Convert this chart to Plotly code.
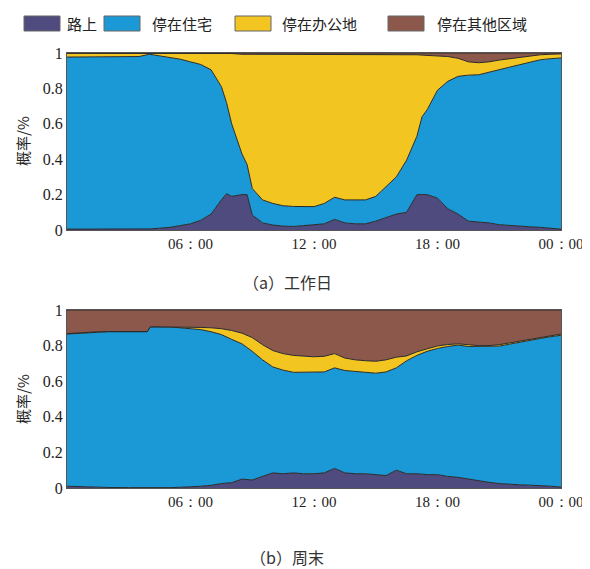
import plotly.graph_objects as go

# ---------------- data (cumulative boundaries) ----------------
wd_hours = [0, 1, 2, 3, 3.5, 4, 4.5, 5, 5.5, 6, 6.5, 7, 7.5, 7.75, 8, 8.5, 8.75, 9, 9.5, 10,
            10.5, 11, 11.5, 12, 12.5, 13, 13.5, 14, 14.5, 15, 15.5, 16, 16.5, 17, 17.25, 17.5,
            18, 18.5, 19, 19.5, 20, 20.5, 21, 21.5, 22, 22.5, 23, 23.5, 24]
wd_road = [0.005, 0.005, 0.003, 0.004, 0.005, 0.006, 0.01, 0.015, 0.025, 0.035, 0.055, 0.09,
           0.17, 0.205, 0.19, 0.2, 0.2, 0.085, 0.04, 0.028, 0.022, 0.02, 0.025, 0.028, 0.035,
           0.06, 0.04, 0.035, 0.035, 0.05, 0.07, 0.09, 0.1, 0.2, 0.2, 0.2, 0.18, 0.12, 0.09,
           0.05, 0.045, 0.04, 0.03, 0.025, 0.02, 0.018, 0.015, 0.01, 0.005]
wd_home_top = [0.977, 0.977, 0.977, 0.977, 0.98, 0.993, 0.985, 0.975, 0.965, 0.95, 0.935,
               0.905, 0.81, 0.72, 0.6, 0.43, 0.37, 0.235, 0.17, 0.15, 0.137, 0.133, 0.132,
               0.132, 0.15, 0.185, 0.17, 0.168, 0.17, 0.19, 0.245, 0.3, 0.395, 0.53, 0.64,
               0.68, 0.79, 0.84, 0.868, 0.875, 0.877, 0.89, 0.905, 0.92, 0.934, 0.948, 0.962,
               0.968, 0.972]
wd_office_top = [0.998, 0.998, 0.998, 0.998, 0.998, 0.998, 0.998, 0.998, 0.998, 0.998, 0.998,
                 0.998, 0.998, 0.998, 0.997, 0.993, 0.993, 0.993, 0.99, 0.99, 0.99, 0.99, 0.99,
                 0.99, 0.99, 0.99, 0.99, 0.99, 0.99, 0.99, 0.99, 0.99, 0.99, 0.99, 0.988, 0.987,
                 0.985, 0.98, 0.97, 0.95, 0.945, 0.95, 0.96, 0.968, 0.975, 0.985, 0.99, 0.993,
                 0.995]

we_hours = [0, 0.5, 1, 1.5, 2, 3, 3.9, 4.05, 4.5, 5, 5.5, 6, 6.5, 7, 7.5, 8, 8.5, 9, 9.5, 10,
            10.5, 11, 11.5, 12, 12.5, 13, 13.5, 14, 14.5, 15, 15.5, 16, 16.5, 17, 17.5, 18,
            18.5, 19, 19.5, 20, 20.5, 21, 21.5, 22, 22.5, 23, 23.5, 24]
we_road = [0.01, 0.008, 0.005, 0.004, 0.003, 0.002, 0.001, 0.0, 0.0, 0.002, 0.004, 0.005,
           0.01, 0.015, 0.025, 0.03, 0.05, 0.045, 0.065, 0.085, 0.08, 0.085, 0.08, 0.08, 0.085,
           0.11, 0.085, 0.08, 0.08, 0.075, 0.07, 0.1, 0.08, 0.08, 0.075, 0.075, 0.065, 0.06,
           0.05, 0.04, 0.032, 0.025, 0.02, 0.018, 0.016, 0.015, 0.01, 0.005]
we_home_top = [0.865, 0.868, 0.872, 0.877, 0.878, 0.878, 0.878, 0.905, 0.905, 0.905, 0.9,
               0.895, 0.89, 0.878, 0.862, 0.835, 0.81, 0.768, 0.72, 0.68, 0.662, 0.65, 0.65,
               0.648, 0.652, 0.675, 0.66, 0.655, 0.648, 0.645, 0.652, 0.675, 0.715, 0.745,
               0.768, 0.784, 0.795, 0.803, 0.795, 0.795, 0.795, 0.797, 0.808, 0.82, 0.83, 0.84,
               0.85, 0.858]
we_office_top = [0.867, 0.872, 0.873, 0.878, 0.879, 0.879, 0.879, 0.906, 0.906, 0.906, 0.905,
                 0.905, 0.902, 0.9, 0.895, 0.885, 0.87, 0.845, 0.805, 0.772, 0.755, 0.745, 0.74,
                 0.737, 0.74, 0.755, 0.73, 0.72, 0.715, 0.712, 0.72, 0.735, 0.742, 0.765, 0.782,
                 0.798, 0.806, 0.81, 0.805, 0.8, 0.8, 0.805, 0.815, 0.825, 0.835, 0.845, 0.856,
                 0.865]

series_names = ["路上", "停在住宅", "停在办公地", "停在其他区域"]
series_colors = ["#4f4b7e", "#1b98d6", "#f3c520", "#8b584b"]
tick_vals = [6, 12, 18, 24]
tick_text = ["06：00", "12：00", "18：00", "00：00"]
y_tick_vals = [0, 0.2, 0.4, 0.6, 0.8, 1]
y_tick_text = ["0", "0.2", "0.4", "0.6", "0.8", "1"]
captions = ["（a）工作日", "（b）周末"]
y_title = "概率/%"

# ---------------- figure ----------------
fig = go.Figure()
LINE = "#2a2a2a"


def add_panel(hours, road, home_top, office_top, xa, ya):
    total = [1.0] * len(hours)
    bounds = [road, home_top, office_top, total]
    for i, b in enumerate(bounds):
        fig.add_trace(go.Scatter(
            x=hours, y=b, mode="lines",
            line=dict(color=LINE, width=1),
            fill="tozeroy" if i == 0 else "tonexty",
            fillcolor=series_colors[i],
            name=series_names[i], showlegend=False, hoverinfo="skip",
            xaxis=xa, yaxis=ya))


add_panel(wd_hours, wd_road, wd_home_top, wd_office_top, "x", "y")
add_panel(we_hours, we_road, we_home_top, we_office_top, "x2", "y2")

# page body has an 8px margin: the figure is sized to fit and positions are shifted
OFF = 8
W, H = 590 - OFF, 569 - OFF


def px(x):
    return (x - OFF) / W


def py(y):
    return 1 - (y - OFF) / H


x_dom = [px(67), px(561)]
y_dom_top = [py(230), py(53)]
y_dom_bot = [py(488), py(310)]

tick_font = dict(family="Liberation Serif", size=15, color="#222")
xcommon = dict(range=[0, 24], tickvals=tick_vals, ticktext=tick_text, showgrid=False,
               zeroline=False, showline=True, mirror=True, linecolor="#555", linewidth=1,
               ticks="", tickfont=tick_font, domain=x_dom, automargin=False)
ycommon = dict(range=[0, 1], tickvals=y_tick_vals, ticktext=y_tick_text, showgrid=False,
               zeroline=False, showline=True, mirror=True, linecolor="#555", linewidth=1,
               ticks="", tickfont=dict(family="Liberation Serif", size=16, color="#222"),
               ticklabelstandoff=0, automargin=False)

fig.update_layout(
    width=W, height=H, margin=dict(l=0, r=0, t=0, b=0, autoexpand=False),
    paper_bgcolor="white", plot_bgcolor="white", showlegend=False,
    xaxis=dict(anchor="y", **xcommon),
    yaxis=dict(anchor="x", domain=y_dom_top, **ycommon),
    xaxis2=dict(anchor="y2", **xcommon),
    yaxis2=dict(anchor="x2", domain=y_dom_bot, **ycommon),
)

cjk = "Noto Sans CJK SC"
annotations = []
shapes = []
# legend
box_x = [24, 104, 235, 388]
text_x = [65, 150, 280, 435]
for i in range(4):
    shapes.append(dict(type="rect", xref="paper", yref="paper",
                       x0=px(box_x[i]), x1=px(box_x[i] + 36),
                       y0=py(31), y1=py(16),
                       fillcolor=series_colors[i], line=dict(color="#666", width=1)))
    annotations.append(dict(xref="paper", yref="paper", x=px(text_x[i]), y=py(23.5),
                            xanchor="left", yanchor="middle", showarrow=False,
                            text=series_names[i], font=dict(family=cjk, size=15, color="#222")))
# y titles
for yc in [141, 399]:
    annotations.append(dict(xref="paper", yref="paper", x=px(22), y=py(yc),
                            xanchor="center", yanchor="middle", showarrow=False,
                            textangle=-90, text=y_title,
                            font=dict(family=cjk, size=15, color="#222")))
# captions
for txt, yc in zip(captions, [282, 557]):
    annotations.append(dict(xref="paper", yref="paper", x=px(287), y=py(yc),
                            xanchor="center", yanchor="middle", showarrow=False,
                            text=txt, font=dict(family=cjk, size=16, color="#333")))

fig.update_layout(annotations=annotations, shapes=shapes)
fig.write_html("out.html")
